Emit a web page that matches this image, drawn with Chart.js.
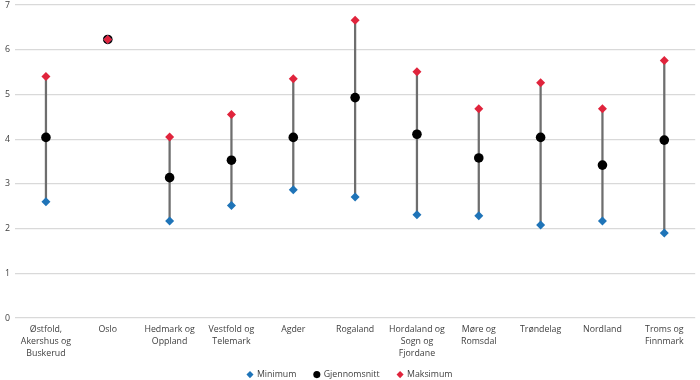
<!DOCTYPE html>
<html lang="no">
<head>
  <meta charset="UTF-8">
  <script src="https://cdn.jsdelivr.net/npm/chart.js"></script>
  <title>Fylker</title>
  <style>
    body { margin: 0; background: #fff; }
    .wrap { width: 700px; height: 380px; }
  </style>
</head>
<body>
<div class="wrap"><canvas id="myChart"></canvas></div>
<script>
  // regioner (linjeskift i etikettene)
  var regioner = [
    ["Østfold,", "Akershus og", "Buskerud"],
    "Oslo",
    ["Hedmark og", "Oppland"],
    ["Vestfold og", "Telemark"],
    "Agder",
    "Rogaland",
    ["Hordaland og", "Sogn og", "Fjordane"],
    ["Møre og", "Romsdal"],
    "Trøndelag",
    "Nordland",
    ["Troms og", "Finnmark"]
  ]
  var minimum = [2.60, 6.23, 2.17, 2.52, 2.87, 2.71, 2.31, 2.29, 2.08, 2.17, 1.90]
  var gjennomsnitt = [4.04, 6.23, 3.14, 3.53, 4.04, 4.93, 4.11, 3.58, 4.04, 3.42, 3.98]
  var maksimum = [5.40, 6.23, 4.05, 4.55, 5.35, 6.66, 5.51, 4.68, 5.26, 4.68, 5.76]
  var yTicks = [0, 1, 2, 3, 4, 5, 6, 7]

  Chart.defaults.font.family = "'Open Sans', 'Noto Sans', sans-serif"
  Chart.defaults.font.size = 8.8
  Chart.defaults.color = "#404040"

  // strek fra min til maks
  var spenn = []
  for (var i = 0; i < minimum.length; i++) {
    spenn.push([minimum[i], maksimum[i]])
  }

  const ctx = document.getElementById("myChart")
  const myChart = new Chart(ctx, {
    data: {
      labels: regioner,
      datasets: [
        {
          type: "line",
          label: "Minimum",
          data: minimum,
          showLine: false,
          pointStyle: "rectRot",
          pointRadius: 4.5,
          pointBackgroundColor: "#1f74b8",
          pointBorderColor: "#1f74b8",
          pointBorderWidth: 0,
          order: 2
        },
        {
          type: "line",
          label: "Gjennomsnitt",
          data: gjennomsnitt,
          showLine: false,
          pointStyle: "circle",
          pointRadius: 4.8,
          pointBackgroundColor: "#000000",
          pointBorderColor: "#000000",
          pointBorderWidth: 0,
          order: 3
        },
        {
          type: "line",
          label: "Maksimum",
          data: maksimum,
          showLine: false,
          pointStyle: "rectRot",
          pointRadius: 4.5,
          pointBackgroundColor: "#e0243c",
          pointBorderColor: "#e0243c",
          pointBorderWidth: 0,
          order: 1
        },
        {
          type: "bar",
          label: "spenn",
          data: spenn,
          backgroundColor: "#6e6e6e",
          barThickness: 1.6,
          order: 4
        }
      ]
    },
    options: {
      responsive: true,
      maintainAspectRatio: false,
      animation: false,
      layout: { padding: { top: 0, right: 0, bottom: -9, left: 0 } },
      plugins: {
        tooltip: { enabled: false },
        legend: {
          position: "bottom",
          labels: {
            usePointStyle: true,
            boxWidth: 5,
            boxHeight: 5,
            padding: 18,
            filter: (item) => item.text !== "spenn",
            sort: (a, b) => a.datasetIndex - b.datasetIndex
          }
        }
      },
      scales: {
        x: {
          offset: true,
          grid: { display: false, drawTicks: false },
          border: { display: false },
          ticks: { maxRotation: 0, autoSkip: false, padding: 6, font: { lineHeight: 1.33 } },
          afterFit: (axis) => {
            axis.height -= 13
            axis.paddingLeft = 0
            axis.paddingRight = 0
            // ikke klipp etikettene til aksens boks
            axis._computeLabelArea = () => undefined
          }
        },
        y: {
          min: 0,
          max: 7,
          afterBuildTicks: (axis) => { axis.ticks = yTicks.map(v => ({ value: v })) },
          afterFit: (axis) => { axis.paddingTop = 5 },
          grid: { color: "#d9d9d9", drawTicks: false, lineWidth: 1.2 },
          border: { display: false },
          ticks: { padding: 5 }
        }
      }
    }
  })
</script>
</body>
</html>
